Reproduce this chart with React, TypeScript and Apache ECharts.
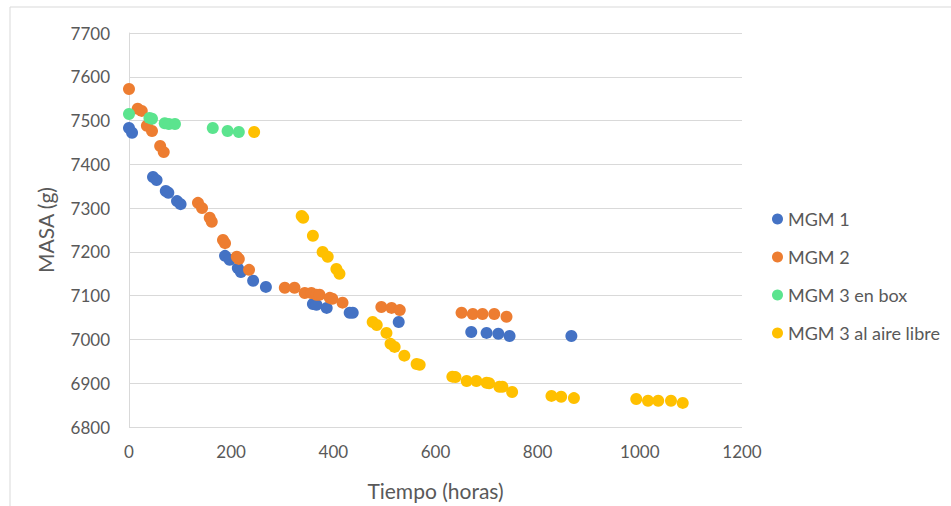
import React, { useEffect, useRef } from "react";
import * as echarts from "echarts";

const mgm1X = [0, 6, 47, 54, 72, 77, 94, 101, 188, 197, 213, 219, 243, 268, 360, 367, 387, 432, 438, 528, 670, 700, 723, 745, 866];
const mgm1Y = [7483, 7472, 7371, 7364, 7339, 7335, 7316, 7309, 7191, 7182, 7163, 7154, 7134, 7120, 7081, 7079, 7072, 7061, 7061, 7040, 7017, 7015, 7013, 7008, 7008];

const mgm2X = [0, 17, 25, 35, 45, 61, 68, 135, 143, 158, 162, 184, 188, 211, 215, 235, 305, 324, 344, 357, 367, 373, 393, 398, 418, 494, 514, 530, 651, 673, 692, 715, 739];
const mgm2Y = [7572, 7527, 7522, 7488, 7476, 7442, 7428, 7312, 7300, 7278, 7269, 7227, 7220, 7189, 7184, 7159, 7118, 7118, 7106, 7106, 7102, 7102, 7095, 7093, 7084, 7074, 7072, 7067, 7061, 7058, 7058, 7058, 7052];

const mgm3BoxX = [0, 40, 45, 70, 78, 90, 164, 193, 215];
const mgm3BoxY = [7515, 7506, 7504, 7494, 7492, 7492, 7483, 7476, 7474];

const mgm3AireX = [245, 338, 341, 360, 379, 389, 406, 412, 477, 485, 504, 512, 520, 539, 563, 569, 633, 639, 661, 680, 700, 705, 725, 731, 750, 827, 846, 871, 993, 1016, 1036, 1061, 1084];
const mgm3AireY = [7474, 7282, 7278, 7237, 7200, 7189, 7161, 7150, 7040, 7033, 7015, 6990, 6983, 6963, 6944, 6942, 6915, 6914, 6905, 6905, 6901, 6900, 6892, 6892, 6880, 6871, 6869, 6866, 6864, 6860, 6860, 6860, 6855];

const seriesNames = ["MGM 1", "MGM 2", "MGM 3 en box", "MGM 3 al aire libre"];
const seriesColors = ["#4472C4", "#ED7D31", "#5BE48E", "#FFC000"];
const seriesX = [mgm1X, mgm2X, mgm3BoxX, mgm3AireX];
const seriesY = [mgm1Y, mgm2Y, mgm3BoxY, mgm3AireY];

const FONT = "Lato, 'Liberation Sans', sans-serif";

export default function App() {
  const ref = useRef<HTMLDivElement>(null);
  useEffect(() => {
    if (!ref.current) return;
    const chart = echarts.init(ref.current, undefined, { renderer: "svg" });
    chart.setOption({
      animation: false,
      backgroundColor: "#ffffff",
      textStyle: { fontFamily: FONT },
      graphic: [
        {
          type: "polyline",
          shape: { points: [[10, 506], [10, 7], [951, 7]] },
          style: { stroke: "#d9d9d9", fill: "none", lineWidth: 1 },
          silent: true,
        },
      ],
      grid: { left: 129, right: 209, top: 33, bottom: 79, containLabel: false },
      legend: {
        orient: "vertical",
        left: 767,
        top: 205,
        itemGap: 20,
        itemWidth: 11,
        itemHeight: 11,
        icon: "circle",
        textStyle: { color: "#595959", fontSize: 18, fontFamily: FONT },
        data: seriesNames,
      },
      xAxis: {
        type: "value",
        min: 0,
        max: 1200,
        interval: 200,
        name: "Tiempo (horas)",
        nameLocation: "middle",
        nameGap: 53,
        nameTextStyle: { color: "#595959", fontSize: 21, fontFamily: FONT },
        axisLine: { show: false },
        axisTick: { show: false },
        splitLine: { show: false },
        axisLabel: {
          color: "#595959",
          fontSize: 17,
          margin: 16,
          fontFamily: FONT,
          formatter: (v: number) => String(v),
        },
      },
      yAxis: {
        type: "value",
        min: 6800,
        max: 7700,
        interval: 100,
        name: "MASA (g)",
        nameLocation: "middle",
        nameGap: 73,
        nameTextStyle: { color: "#595959", fontSize: 21, fontFamily: FONT },
        axisLine: { show: true, lineStyle: { color: "#d9d9d9" } },
        axisTick: { show: false },
        splitLine: { show: true, lineStyle: { color: "#d9d9d9", width: 1 } },
        axisLabel: {
          color: "#595959",
          fontSize: 17,
          margin: 19,
          fontFamily: FONT,
          formatter: (v: number) => String(v),
        },
      },
      series: seriesNames.map((name, i) => ({
        name,
        type: "scatter",
        symbol: "circle",
        symbolSize: 12,
        itemStyle: { color: seriesColors[i], opacity: 1 },
        data: seriesX[i].map((x, j) => [x, seriesY[i][j]]),
      })),
    });
    return () => chart.dispose();
  }, []);
  return (
    <div
      ref={ref}
      style={{ position: "fixed", left: 0, top: 0, width: 951, height: 506 }}
    />
  );
}
